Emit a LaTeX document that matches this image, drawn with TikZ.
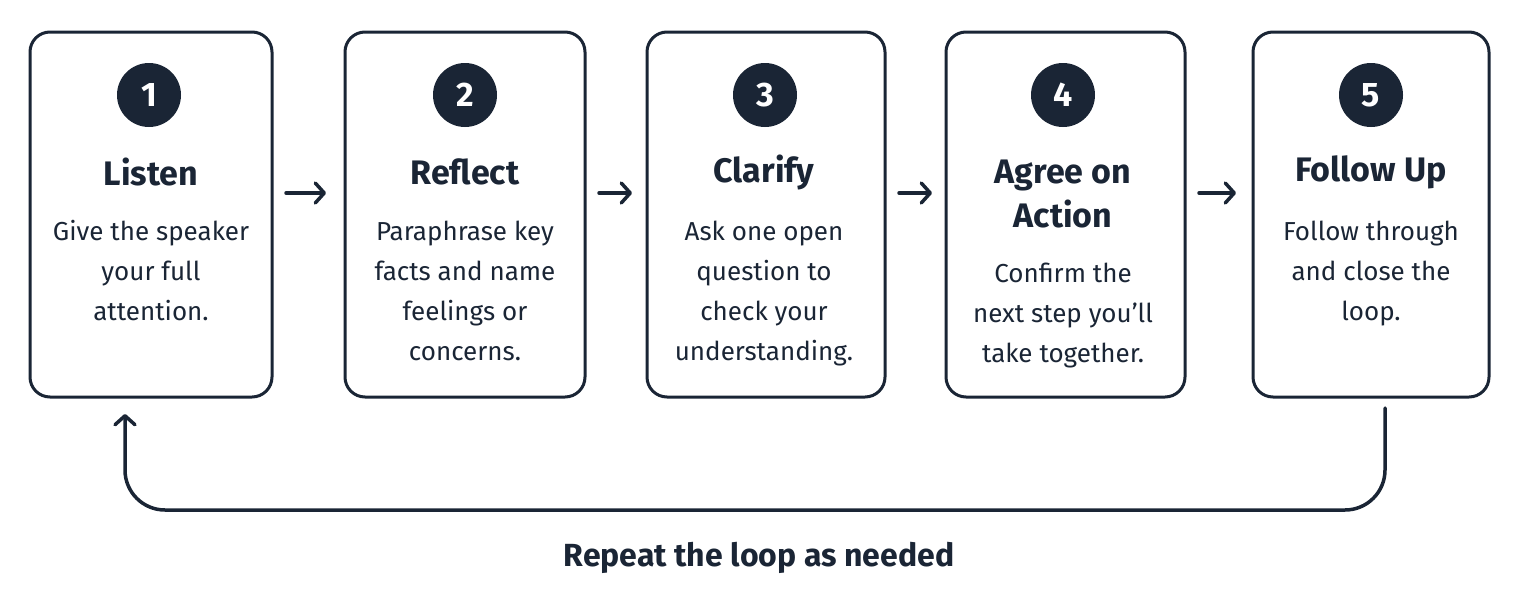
\documentclass[tikz,border=0pt]{standalone}
\usepackage{fontspec}
\setmainfont{Fira Sans}
\usetikzlibrary{arrows.meta}
\definecolor{navy}{HTML}{1A2535}
\begin{document}
\begin{tikzpicture}[x=1pt,y=-1pt,
  box/.style={draw=navy,line width=3pt,rounded corners=20pt,fill=white},
  num/.style={circle,fill=navy,minimum size=64pt,inner sep=0pt,text=white,font=\fontsize{34}{34}\selectfont\bfseries},
  ttl/.style={text=navy,font=\fontsize{34}{44}\selectfont\bfseries,align=center,anchor=center},
  body/.style={text=navy,font=\fontsize{26}{40}\selectfont,align=center,anchor=north},
  arr/.style={draw=navy,line width=3.5pt,line cap=round,-{Straight Barb[length=9pt,width=20pt,line width=3.5pt,round]}}]
\useasboundingbox (0,0) rectangle (1521,611);
\foreach \n/\l/\r in {1/30/272,2/345/585,3/647/885,4/946/1185,5/1253/1489}{
  \draw[box] (\l,32) rectangle (\r,397);
}
\node[num] (c1) at (149,95) {1};
\node[num] (c2) at (465,95) {2};
\node[num] (c3) at (765,95) {3};
\node[num] (c4) at (1063,95) {4};
\node[num] (c5) at (1371,95) {5};
\node[ttl] (t1) at (151,172) {Listen};
\node[ttl] (t2) at (465,172) {Reflect};
\node[ttl] (t3) at (764,172) {Clarify};
\node[ttl] (t4) at (1063,194) {Agree on\\Action};
\node[ttl] (t5) at (1371,172) {Follow Up};
\node[body] (d1) at (151,217) {Give the speaker\\your full\\attention.};
\node[body] (d2) at (465,217) {Paraphrase key\\facts and name\\feelings or\\concerns.};
\node[body] (d3) at (764,217) {Ask one open\\question to\\check your\\understanding.};
\node[body] (d4) at (1063,259) {Confirm the\\next step you’ll\\take together.};
\node[body] (d5) at (1371,217) {Follow through\\and close the\\loop.};
\coordinate (a1s) at (286,193); \coordinate (a1e) at (326,193);
\coordinate (a2s) at (599,193); \coordinate (a2e) at (632,193);
\coordinate (a3s) at (899,193); \coordinate (a3e) at (932,193);
\coordinate (a4s) at (1199,193); \coordinate (a4e) at (1236,193);
\draw[arr] (a1s) -- (a1e);
\draw[arr] (a2s) -- (a2e);
\draw[arr] (a3s) -- (a3e);
\draw[arr] (a4s) -- (a4e);
\coordinate (ls) at (1385,408);
\coordinate (le) at (125,414);
\draw[arr,rounded corners=40pt] (ls) -- (1385,510) -- (125,510) -- (le);
\node[text=navy,font=\fontsize{32}{32}\selectfont\bfseries] (rep) at (759,558) {Repeat the loop as needed};
\end{tikzpicture}
\end{document}
